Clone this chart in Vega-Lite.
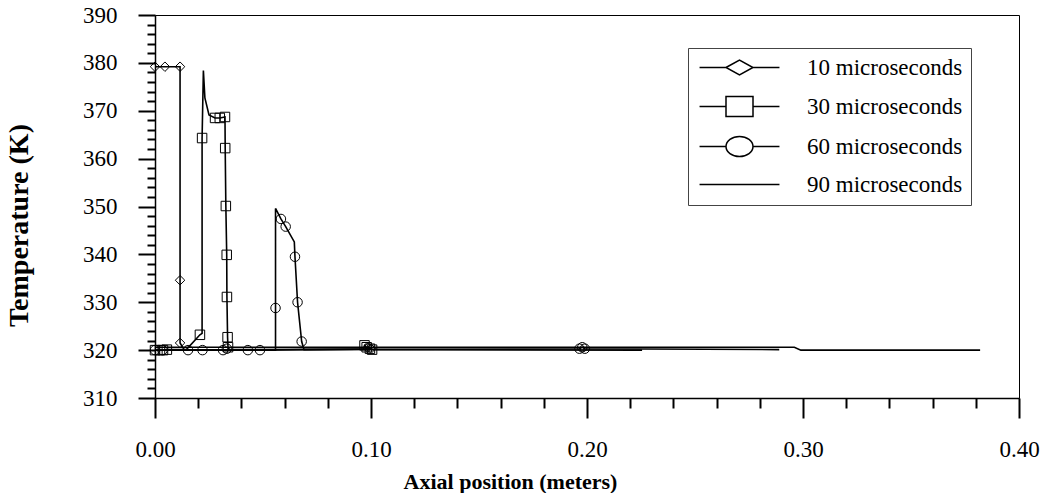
{
  "$schema": "https://vega.github.io/schema/vega-lite/v6.json",
  "width": 864,
  "height": 383,
  "autosize": {"type": "none"},
  "padding": {"left": 155, "top": 15, "right": 29, "bottom": 95},
  "background": "white",
  "config": {
    "view": {"stroke": "black", "strokeWidth": 1},
    "font": "Liberation Serif"
  },
  "datasets": {
    "lines": [
      {"series": "10 microseconds", "x": 0.0, "T": 379.2},
      {"series": "10 microseconds", "x": 0.0046, "T": 379.2},
      {"series": "10 microseconds", "x": 0.0116, "T": 379.2},
      {"series": "10 microseconds", "x": 0.0116, "T": 334.6},
      {"series": "10 microseconds", "x": 0.0116, "T": 321.5},
      {"series": "10 microseconds", "x": 0.0135, "T": 320.1},
      {"series": "10 microseconds", "x": 0.05, "T": 320.0},
      {"series": "10 microseconds", "x": 0.097, "T": 320.2},
      {"series": "10 microseconds", "x": 0.0985, "T": 320.5},
      {"series": "10 microseconds", "x": 0.1, "T": 320.3},
      {"series": "30 microseconds", "x": 0.0, "T": 320.0},
      {"series": "30 microseconds", "x": 0.0023, "T": 320.0},
      {"series": "30 microseconds", "x": 0.0037, "T": 320.0},
      {"series": "30 microseconds", "x": 0.0055, "T": 320.1},
      {"series": "30 microseconds", "x": 0.0145, "T": 320.1},
      {"series": "30 microseconds", "x": 0.0208, "T": 323.2},
      {"series": "30 microseconds", "x": 0.0218, "T": 323.5},
      {"series": "30 microseconds", "x": 0.0218, "T": 364.3},
      {"series": "30 microseconds", "x": 0.0224, "T": 378.4},
      {"series": "30 microseconds", "x": 0.0231, "T": 372.7},
      {"series": "30 microseconds", "x": 0.025, "T": 369.1},
      {"series": "30 microseconds", "x": 0.0278, "T": 368.5},
      {"series": "30 microseconds", "x": 0.03, "T": 368.5},
      {"series": "30 microseconds", "x": 0.0324, "T": 368.7},
      {"series": "30 microseconds", "x": 0.0325, "T": 362.2},
      {"series": "30 microseconds", "x": 0.0328, "T": 350.1},
      {"series": "30 microseconds", "x": 0.0332, "T": 339.9},
      {"series": "30 microseconds", "x": 0.0333, "T": 331.1},
      {"series": "30 microseconds", "x": 0.0336, "T": 322.7},
      {"series": "30 microseconds", "x": 0.0338, "T": 320.6},
      {"series": "30 microseconds", "x": 0.0345, "T": 320.1},
      {"series": "30 microseconds", "x": 0.0965, "T": 320.2},
      {"series": "30 microseconds", "x": 0.097, "T": 321.0},
      {"series": "30 microseconds", "x": 0.098, "T": 320.6},
      {"series": "30 microseconds", "x": 0.0995, "T": 320.3},
      {"series": "30 microseconds", "x": 0.1005, "T": 320.1},
      {"series": "30 microseconds", "x": 0.2255, "T": 320.0},
      {"series": "60 microseconds", "x": 0.0, "T": 320.0},
      {"series": "60 microseconds", "x": 0.0035, "T": 320.0},
      {"series": "60 microseconds", "x": 0.0153, "T": 320.0},
      {"series": "60 microseconds", "x": 0.022, "T": 320.0},
      {"series": "60 microseconds", "x": 0.0315, "T": 320.0},
      {"series": "60 microseconds", "x": 0.043, "T": 320.0},
      {"series": "60 microseconds", "x": 0.0486, "T": 320.0},
      {"series": "60 microseconds", "x": 0.0558, "T": 320.0},
      {"series": "60 microseconds", "x": 0.0558, "T": 328.8},
      {"series": "60 microseconds", "x": 0.0558, "T": 349.6},
      {"series": "60 microseconds", "x": 0.0583, "T": 347.4},
      {"series": "60 microseconds", "x": 0.0605, "T": 345.8},
      {"series": "60 microseconds", "x": 0.0645, "T": 342.6},
      {"series": "60 microseconds", "x": 0.0648, "T": 339.5},
      {"series": "60 microseconds", "x": 0.066, "T": 330.0},
      {"series": "60 microseconds", "x": 0.0679, "T": 321.8},
      {"series": "60 microseconds", "x": 0.069, "T": 320.1},
      {"series": "60 microseconds", "x": 0.1965, "T": 320.3},
      {"series": "60 microseconds", "x": 0.1978, "T": 320.6},
      {"series": "60 microseconds", "x": 0.199, "T": 320.3},
      {"series": "60 microseconds", "x": 0.289, "T": 320.1},
      {"series": "90 microseconds", "x": 0.0, "T": 320.6},
      {"series": "90 microseconds", "x": 0.296, "T": 320.6},
      {"series": "90 microseconds", "x": 0.299, "T": 320.0},
      {"series": "90 microseconds", "x": 0.382, "T": 320.0}
    ],
    "markers": [
      {"series": "10 microseconds", "x": 0.0, "T": 379.2},
      {"series": "10 microseconds", "x": 0.0046, "T": 379.2},
      {"series": "10 microseconds", "x": 0.0116, "T": 379.2},
      {"series": "10 microseconds", "x": 0.0116, "T": 334.6},
      {"series": "10 microseconds", "x": 0.0116, "T": 321.5},
      {"series": "10 microseconds", "x": 0.0985, "T": 320.5},
      {"series": "10 microseconds", "x": 0.1, "T": 320.3},
      {"series": "30 microseconds", "x": 0.0, "T": 320.0},
      {"series": "30 microseconds", "x": 0.0023, "T": 320.0},
      {"series": "30 microseconds", "x": 0.0037, "T": 320.0},
      {"series": "30 microseconds", "x": 0.0055, "T": 320.1},
      {"series": "30 microseconds", "x": 0.0208, "T": 323.2},
      {"series": "30 microseconds", "x": 0.0218, "T": 364.3},
      {"series": "30 microseconds", "x": 0.0278, "T": 368.5},
      {"series": "30 microseconds", "x": 0.03, "T": 368.5},
      {"series": "30 microseconds", "x": 0.0324, "T": 368.7},
      {"series": "30 microseconds", "x": 0.0325, "T": 362.2},
      {"series": "30 microseconds", "x": 0.0328, "T": 350.1},
      {"series": "30 microseconds", "x": 0.0332, "T": 339.9},
      {"series": "30 microseconds", "x": 0.0333, "T": 331.1},
      {"series": "30 microseconds", "x": 0.0336, "T": 322.7},
      {"series": "30 microseconds", "x": 0.0338, "T": 320.6},
      {"series": "30 microseconds", "x": 0.097, "T": 321.0},
      {"series": "30 microseconds", "x": 0.098, "T": 320.6},
      {"series": "30 microseconds", "x": 0.0995, "T": 320.3},
      {"series": "30 microseconds", "x": 0.1005, "T": 320.1},
      {"series": "60 microseconds", "x": 0.0, "T": 320.0},
      {"series": "60 microseconds", "x": 0.0035, "T": 320.0},
      {"series": "60 microseconds", "x": 0.0153, "T": 320.0},
      {"series": "60 microseconds", "x": 0.022, "T": 320.0},
      {"series": "60 microseconds", "x": 0.0315, "T": 320.0},
      {"series": "60 microseconds", "x": 0.0333, "T": 320.3},
      {"series": "60 microseconds", "x": 0.043, "T": 320.0},
      {"series": "60 microseconds", "x": 0.0486, "T": 320.0},
      {"series": "60 microseconds", "x": 0.0558, "T": 328.8},
      {"series": "60 microseconds", "x": 0.0583, "T": 347.4},
      {"series": "60 microseconds", "x": 0.0605, "T": 345.8},
      {"series": "60 microseconds", "x": 0.0648, "T": 339.5},
      {"series": "60 microseconds", "x": 0.066, "T": 330.0},
      {"series": "60 microseconds", "x": 0.0679, "T": 321.8},
      {"series": "60 microseconds", "x": 0.1965, "T": 320.3},
      {"series": "60 microseconds", "x": 0.1978, "T": 320.6},
      {"series": "60 microseconds", "x": 0.199, "T": 320.3}
    ]
  },
  "layer": [
    {
      "data": {"name": "lines"},
      "mark": {"type": "line", "color": "black", "strokeWidth": 1.6},
      "encoding": {
        "x": {
          "field": "x", "type": "quantitative",
          "scale": {"domain": [0, 0.4], "nice": false, "zero": false},
          "axis": {
            "orient": "bottom",
            "title": "Axial position (meters)",
            "values": [0, 0.1, 0.2, 0.3, 0.4],
            "format": ".2f",
            "ticks": true,
            "tickSize": 20,
            "tickColor": "black", "tickWidth": 2,
            "grid": false,
            "domainColor": "black", "domainWidth": 1.5,
            "labelFontSize": 23, "labelColor": "black", "labelPadding": 20,
            "labelFlush": false,
            "titleFontSize": 22, "titleFontWeight": "bold", "titleColor": "black",
            "titleX": 355, "titleY": 83, "titleBaseline": "middle"
          }
        },
        "y": {
          "field": "T", "type": "quantitative",
          "scale": {"domain": [310, 390], "nice": false, "zero": false},
          "axis": {
            "orient": "left",
            "title": "Temperature (K)",
            "values": [310, 320, 330, 340, 350, 360, 370, 380, 390],
            "ticks": true,
            "tickSize": 17,
            "tickColor": "black", "tickWidth": 2,
            "grid": false,
            "domainColor": "black", "domainWidth": 1.5,
            "labelFontSize": 23, "labelColor": "black", "labelPadding": 21,
            "titleFontSize": 28, "titleFontWeight": "bold", "titleColor": "black",
            "titleX": -136, "titleY": 210, "titleBaseline": "middle"
          }
        },
        "detail": {"field": "series"}
      }
    },
    {
      "data": {"name": "markers"},
      "mark": {"type": "point", "filled": false, "color": "black", "strokeWidth": 1, "size": 90, "opacity": 1},
      "encoding": {
        "x": {
          "field": "x", "type": "quantitative",
          "axis": {
            "orient": "bottom",
            "title": null,
            "values": [0.02, 0.04, 0.06, 0.08, 0.12, 0.14, 0.16, 0.18, 0.22, 0.24, 0.26, 0.28, 0.32, 0.34, 0.36, 0.38],
            "labels": false, "domain": false, "grid": false, "ticks": true,
            "tickSize": 10, "tickColor": "black", "tickWidth": 2
          }
        },
        "y": {
          "field": "T", "type": "quantitative",
          "axis": {
            "orient": "left",
            "title": null,
            "values": [312, 314, 316, 318, 322, 324, 326, 328, 332, 334, 336, 338, 342, 344, 346, 348, 352, 354, 356, 358, 362, 364, 366, 368, 372, 374, 376, 378, 382, 384, 386, 388],
            "labels": false, "domain": false, "grid": false, "ticks": true,
            "tickSize": 8, "tickColor": "black", "tickWidth": 2
          }
        },
        "shape": {
          "field": "series", "type": "nominal",
          "scale": {"domain": ["10 microseconds", "30 microseconds", "60 microseconds"], "range": ["diamond", "square", "circle"]},
          "legend": null
        }
      }
    },
    {
      "data": {"name": "lines"},
      "mark": {"type": "point", "filled": false, "color": "black", "opacity": 0, "size": 324, "strokeWidth": 1.5},
      "encoding": {
        "x": {"field": "x", "type": "quantitative", "axis": null},
        "y": {"field": "T", "type": "quantitative", "axis": null},
        "shape": {
          "field": "series", "type": "nominal",
          "scale": {
            "domain": ["10 microseconds", "30 microseconds", "60 microseconds", "90 microseconds"],
            "range": [
              "M-4.44,0H-1.5M1.5,0H4.44M-1.5,0L0,-0.83L1.5,0L0,0.83Z",
              "M-4.44,0H-1.5M1.5,0H4.44M-1.5,-1.11H1.5V1.11H-1.5Z",
              "M-4.44,0H-1.5M1.5,0H4.44M-1.5,0A1.5,1.11 0 1,0 1.5,0A1.5,1.11 0 1,0 -1.5,0Z",
              "M-4.44,0H4.44"
            ]
          },
          "legend": {
            "title": null,
            "orient": "none",
            "legendX": 533,
            "legendY": 33,
            "padding": 8,
            "strokeColor": "#444",
            "fillColor": "white",
            "symbolSize": 324,
            "symbolStrokeWidth": 1.5,
            "symbolStrokeColor": "black",
            "symbolFillColor": "transparent",
            "symbolOpacity": 1,
            "symbolOffset": 32,
            "labelOffset": 56,
            "rowPadding": 13,
            "labelFontSize": 23,
            "labelColor": "black",
            "labelFont": "Liberation Serif",
            "labelLimit": 300,
            "encode": {"symbols": {"update": {"opacity": {"value": 1}}}}
          }
        }
      }
    }
  ],
  "resolve": {
    "scale": {"shape": "independent"},
    "legend": {"shape": "independent"},
    "axis": {"x": "independent", "y": "independent"}
  }
}
